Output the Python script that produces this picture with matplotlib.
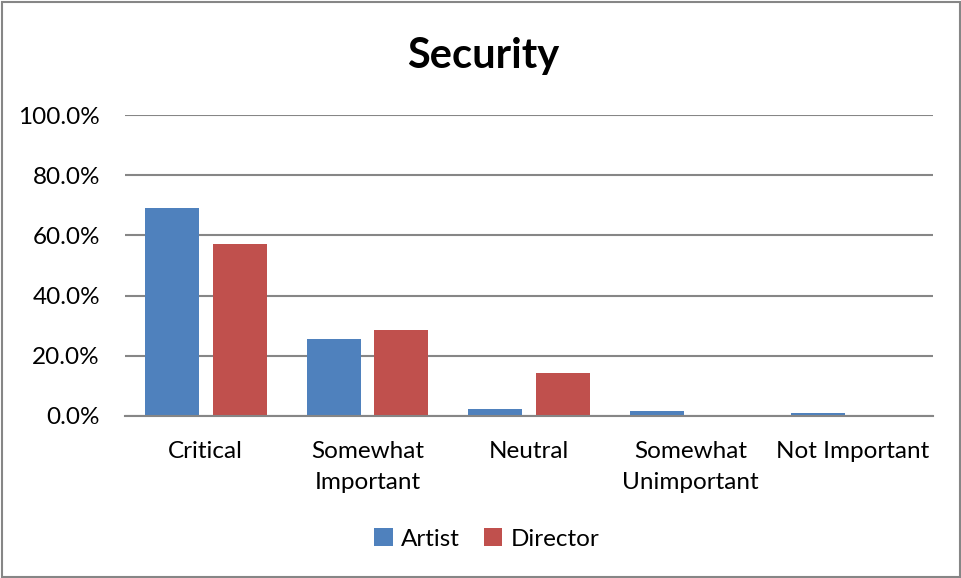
import matplotlib
matplotlib.use("Agg")
import matplotlib.pyplot as plt
from matplotlib.patches import Rectangle
from matplotlib.ticker import FuncFormatter
import numpy as np

categories = ["Critical", "Somewhat\nImportant", "Neutral", "Somewhat\nUnimportant", "Not Important"]
artist = [69.1, 25.7, 2.4, 1.7, 0.9]
director = [57.1, 28.6, 14.3, 0.0, 0.0]
yticks = [0, 20, 40, 60, 80, 100]

plt.rcParams["font.family"] = ["Lato", "DejaVu Sans"]

W, H = 961, 578
fig = plt.figure(figsize=(W / 100, H / 100), dpi=100)
ax = fig.add_axes([125 / W, 1 - 416 / H, (933 - 125) / W, (416 - 115) / H])

x = np.arange(len(categories))
bw = 0.334
off = 0.2095
ax.bar(x - off, artist, bw, color="#4F81BD", label="Artist", zorder=3)
ax.bar(x + off, director, bw, color="#C0504D", label="Director", zorder=3)

ax.set_xlim(-0.5, len(categories) - 0.5)
ax.set_ylim(0, 100)
ax.set_yticks(yticks)
ax.yaxis.set_major_formatter(FuncFormatter(lambda v, p: f"{v:.1f}%"))
ax.grid(axis="y", color="#868686", linewidth=1.5, zorder=0)
ax.set_xticks(x)
ax.set_xticklabels(categories, fontsize=17.5, color="#000000", linespacing=1.6)
ax.tick_params(axis="x", length=0, pad=18)
ax.tick_params(axis="y", length=0, pad=18, labelsize=17.5)
for s in ["top", "right", "left"]:
    ax.spines[s].set_visible(False)
ax.spines["bottom"].set_color("#868686")
ax.spines["bottom"].set_linewidth(1.5)
ax.spines["bottom"].set_zorder(4)

fig.text(483 / W, 1 - 56 / H, "Security", ha="center", va="center",
         fontsize=30, fontweight="bold")

fig.legend(loc="center", bbox_to_anchor=(487 / W, 1 - 539 / H), ncol=2,
           frameon=False, fontsize=17.5, handlelength=0.75, handleheight=0.75,
           handletextpad=0.35, columnspacing=1.0)

fig.patches.append(Rectangle((1.5 / W, 1.5 / H), (W - 3) / W, (H - 3) / H,
                             transform=fig.transFigure, fill=False,
                             edgecolor="#868686", linewidth=1.5))

fig.savefig("out.png", dpi=100)
